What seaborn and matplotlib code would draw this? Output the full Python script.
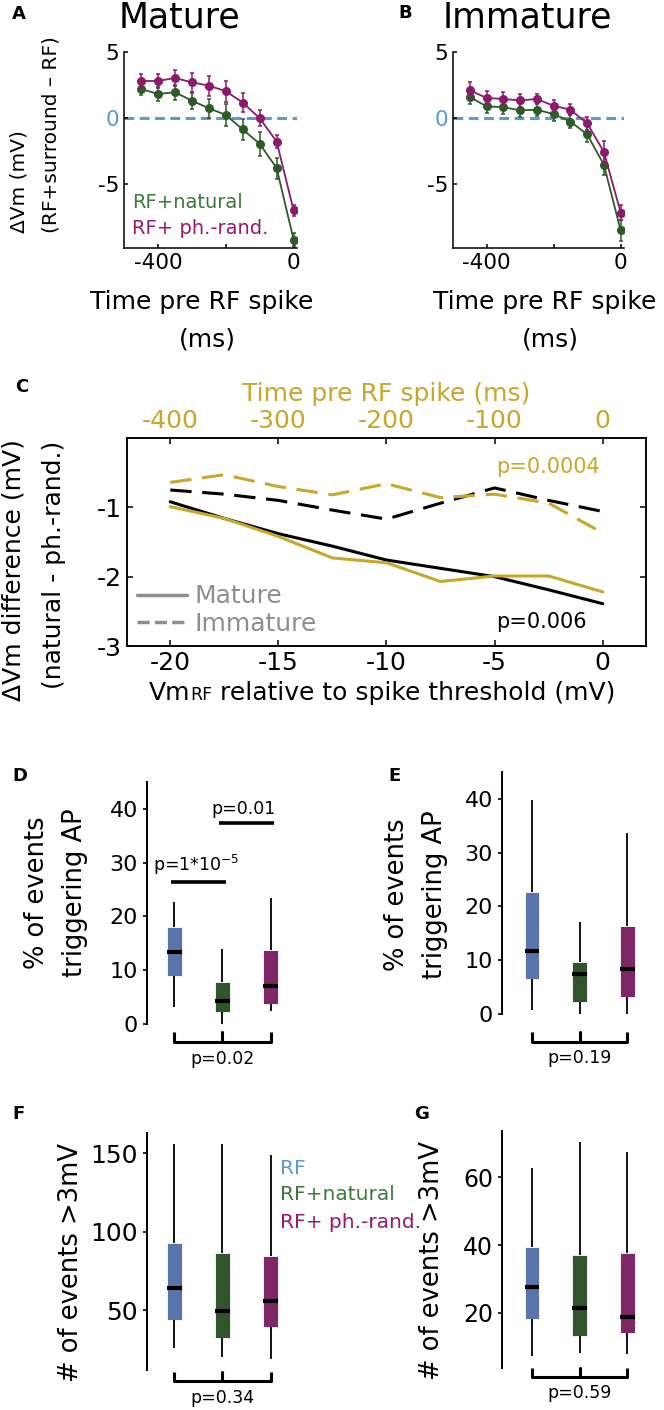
import numpy as np
import pandas as pd
import matplotlib
matplotlib.use("Agg")
import matplotlib.pyplot as plt
from matplotlib.lines import Line2D
from matplotlib.offsetbox import TextArea, HPacker, AnchoredOffsetbox
import seaborn as sns

W, H = 664, 1410

GREEN = "#2d5a27"
MAGENTA = "#8b1a6b"
BLUE_BOX = "#4a70b8"
BLUE_LINE = "#5b9bd5"
GOLD = "#c9a62c"
GRAY = "#8e8e8e"
LEG_GREEN = "#3b7a3a"
LEG_MAGENTA = "#98196f"

# --- A / B : dVm vs time before RF spike -------------------------------
TIME_MS = [-450, -400, -350, -300, -250, -200, -150, -100, -50, 0]
MATURE_NAT = [2.21, 1.83, 1.96, 1.33, 0.75, 0.25, -0.85, -1.93, -3.77, -9.17]
MATURE_NAT_ERR = [0.45, 0.5, 0.55, 0.6, 0.7, 0.8, 0.8, 0.9, 0.8, 0.5]
MATURE_RAND = [2.81, 2.81, 3.04, 2.71, 2.46, 2.04, 1.18, 0.0, -1.76, -6.96]
MATURE_RAND_ERR = [0.5, 0.5, 0.6, 0.7, 0.75, 0.8, 0.7, 0.6, 0.5, 0.4]
IMM_NAT = [1.60, 0.89, 0.84, 0.59, 0.64, 0.31, -0.25, -1.22, -3.51, -8.47]
IMM_NAT_ERR = [0.5, 0.5, 0.5, 0.5, 0.5, 0.5, 0.5, 0.6, 0.8, 0.8]
IMM_RAND = [2.11, 1.53, 1.45, 1.35, 1.45, 0.94, 0.64, -0.38, -2.54, -7.12]
IMM_RAND_ERR = [0.6, 0.5, 0.5, 0.5, 0.4, 0.4, 0.4, 0.5, 0.8, 0.6]

# --- C : natural - phase-randomised difference --------------------------
VM_REL = [-20, -17.5, -15, -12.5, -10, -7.5, -5, -2.5, 0]
TIME_C = [-400, -350, -300, -250, -200, -150, -100, -50, 0]
C_MATURE_VM = [-0.92, -1.16, -1.38, -1.56, -1.76, -1.88, -2.00, -2.19, -2.39]
C_MATURE_TIME = [-0.99, -1.16, -1.42, -1.73, -1.80, -2.07, -1.99, -1.99, -2.22]
C_IMM_VM = [-0.75, -0.81, -0.90, -1.04, -1.17, -0.94, -0.72, -0.90, -1.06]
C_IMM_TIME = [-0.64, -0.53, -0.70, -0.82, -0.66, -0.86, -0.81, -0.94, -1.37]

# --- D-G : box summaries [low whisker, q1, median, q3, high whisker] -----
CONDITIONS = ["RF", "RF+natural", "RF+ ph.-rand."]
BOX_COLORS = [BLUE_BOX, GREEN, MAGENTA]
D_STATS = [[3.2, 8.9, 13.4, 18.0, 22.6], [0.0, 2.2, 4.2, 7.75, 14.0], [2.5, 3.8, 7.1, 13.7, 23.4]]
E_STATS = [[0.8, 6.5, 11.7, 22.6, 39.8], [0.0, 2.3, 7.5, 9.7, 17.1], [0.0, 3.1, 8.4, 16.3, 33.7]]
F_STATS = [[25.9, 44.0, 64.0, 93.2, 156.2], [20.2, 32.6, 49.4, 86.4, 156.2], [19.1, 39.6, 55.7, 84.9, 149.0]]
G_STATS = [[7.3, 18.3, 27.6, 39.4, 62.8], [8.2, 13.1, 21.6, 37.1, 70.4], [8.0, 14.1, 18.8, 37.7, 67.3]]
# pairwise bars in D: (x from, x to, y)
D_SIG = [(-0.06, 1.08, 26.4, "p=1*10$^{-5}$"), (0.92, 2.06, 37.4, "p=0.01")]


def place(fig, l, t, w, h):
    return fig.add_axes([l / W, 1 - (t + h) / H, w / W, h / H])


def ftext(fig, x, y, s, **kw):
    return fig.text(x / W, 1 - y / H, s, **kw)


def trace_panel(ax, nat, nat_err, rnd, rnd_err):
    ax.axhline(0, color=BLUE_LINE, lw=2.2, ls=(0, (3.2, 1.8)), zorder=0)
    for vals, err, col in ((nat, nat_err, GREEN), (rnd, rnd_err, MAGENTA)):
        ax.errorbar(TIME_MS, vals, yerr=err, fmt="none", ecolor=col,
                    elinewidth=1.1, capsize=1.3, capthick=1.1)
        sns.lineplot(x=TIME_MS, y=vals, color=col, marker="o", markersize=6.5,
                     markeredgewidth=0, lw=1.3, ax=ax)
    ax.set_xlim(-500, 10)
    ax.set_ylim(-9.8, 5)
    ax.set_xticks([-400, -200, 0])
    ax.set_xticklabels(["-400", "", "0"])
    ax.set_yticks([-5, 0, 5])
    ax.set_yticklabels(["-5", "0", "5"])
    ax.get_yticklabels()[1].set_color(BLUE_LINE)
    sns.despine(ax=ax)
    ax.tick_params(direction="in", length=3, width=1.1, labelsize=15.5)


def box_panel(ax, stats, ylim, yticks, left):
    df = pd.DataFrame({"cond": np.repeat(CONDITIONS, 5), "val": np.concatenate(stats)})
    sns.boxplot(data=df, x="cond", y="val", hue="cond",
                palette=dict(zip(CONDITIONS, BOX_COLORS)), whis=(0, 100),
                width=0.31, showcaps=False, linecolor="black", linewidth=1.3,
                medianprops=dict(color="black", linewidth=3),
                boxprops=dict(edgecolor="white", linewidth=0.6),
                legend=False, ax=ax)
    ax.set_xlim(left, 2.5)
    ax.set_ylim(*ylim)
    ax.set_yticks(yticks)
    ax.set_xticks([])
    ax.set(xlabel="", ylabel="")
    sns.despine(ax=ax, bottom=True)
    ax.spines["left"].set_linewidth(1.4)
    ax.tick_params(axis="y", direction="out", length=3, width=1.2)


def bracket(ax, y, ytop, label, ylab):
    tr = ax.get_xaxis_transform()
    n = len(CONDITIONS) - 1
    ax.plot([0, 0, n, n], [ytop, y, y, ytop], color="black", lw=2.2,
            transform=tr, clip_on=False, solid_capstyle="butt")
    ax.plot([n / 2, n / 2], [y, ytop], color="black", lw=2.2,
            transform=tr, clip_on=False)
    ax.text(n / 2, ylab, label, transform=tr, ha="center", va="center", fontsize=12.5)


def main():
    sns.set_theme(style="ticks")
    plt.rcParams["font.family"] = ["DejaVu Sans"]
    plt.rcParams["axes.linewidth"] = 1.1
    plt.rcParams["mathtext.default"] = "regular"
    plt.rcParams["axes.unicode_minus"] = False
    for key in ("text.color", "axes.labelcolor", "xtick.color", "ytick.color", "axes.edgecolor"):
        plt.rcParams[key] = "black"

    fig = plt.figure(figsize=(W / 100, H / 100), dpi=100)

    # ---------------- A & B ----------------
    ax_a = place(fig, 124, 52, 173, 196)
    trace_panel(ax_a, MATURE_NAT, MATURE_NAT_ERR, MATURE_RAND, MATURE_RAND_ERR)
    ax_b = place(fig, 453, 52, 171, 196)
    trace_panel(ax_b, IMM_NAT, IMM_NAT_ERR, IMM_RAND, IMM_RAND_ERR)

    ftext(fig, 180, 18, "Mature", fontsize=25, ha="center", va="center")
    ftext(fig, 527, 18, "Immature", fontsize=25, ha="center", va="center")
    for cx in (202, 545):
        ftext(fig, cx, 302, "Time pre RF spike", fontsize=18, ha="center", va="center")
        ftext(fig, cx + 5, 339, "(ms)", fontsize=18, ha="center", va="center")
    ftext(fig, 19, 233, "ΔVm (mV)", fontsize=14.5, rotation=90, ha="center", va="bottom")
    ftext(fig, 51, 233, "(RF+surround – RF)", fontsize=14.5, rotation=90, ha="center", va="bottom")
    ftext(fig, 132, 202, "RF+natural", fontsize=14, color=LEG_GREEN, va="center")
    ftext(fig, 132, 228, "RF+ ph.-rand.", fontsize=14, color=LEG_MAGENTA, va="center")

    # ---------------- C ----------------
    ax_c = place(fig, 127, 438, 519, 208)
    sns.lineplot(x=VM_REL, y=C_MATURE_VM, color="black", lw=2.2, ax=ax_c)
    sns.lineplot(x=VM_REL, y=C_IMM_VM, color="black", lw=2.2, ls=(0, (7, 3.5)), ax=ax_c)
    ax_t = ax_c.twiny()
    sns.lineplot(x=TIME_C, y=C_MATURE_TIME, color=GOLD, lw=2.2, ax=ax_t)
    sns.lineplot(x=TIME_C, y=C_IMM_TIME, color=GOLD, lw=2.2, ls=(0, (7, 3.5)), ax=ax_t)
    ax_c.set_xlim(-22, 2)
    ax_t.set_xlim(-440, 40)
    ax_c.set_ylim(-3, 0)
    ax_c.set_xticks([-20, -15, -10, -5, 0])
    ax_c.set_yticks([-3, -2, -1])
    ax_t.set_xticks([-400, -300, -200, -100, 0])
    ax_c.tick_params(direction="in", length=4, width=1.1, labelsize=18, right=True)
    ax_t.tick_params(direction="in", length=4, width=1.1, labelsize=18, labelcolor=GOLD)
    ax_t.set_xlabel("Time pre RF spike (ms)", color=GOLD, fontsize=18, labelpad=6)
    ax_c.set(xlabel="", ylabel="")

    label = HPacker(children=[TextArea("Vm", textprops=dict(size=18)),
                              TextArea("RF", textprops=dict(size=12.5)),
                              TextArea(" relative to spike threshold (mV)", textprops=dict(size=18))],
                    align="baseline", pad=0, sep=0)
    box = AnchoredOffsetbox(loc="center", child=label, frameon=False, pad=0,
                            bbox_to_anchor=(382 / W, 1 - 693 / H),
                            bbox_transform=fig.transFigure, borderpad=0)
    ax_c.add_artist(box)

    ftext(fig, 14, 570, "ΔVm difference (mV)", fontsize=18, rotation=90, ha="center", va="center")
    ftext(fig, 54, 565, "(natural - ph.-rand.)", fontsize=18, rotation=90, ha="center", va="center")
    ftext(fig, 496, 467, "p=0.0004", fontsize=15, color=GOLD, va="center")
    ftext(fig, 496, 622, "p=0.006", fontsize=15, color="black", va="center")
    handles = [Line2D([], [], color=GRAY, lw=2.5),
               Line2D([], [], color=GRAY, lw=2.5, ls=(0, (3.5, 1.5)))]
    leg = ax_c.legend(handles, ["Mature", "Immature"], loc="lower left", frameon=False,
                      fontsize=18, handlelength=2.0, handletextpad=0.3, labelspacing=0.15,
                      borderaxespad=0.1, borderpad=0.3)
    for t in leg.get_texts():
        t.set_color(GRAY)

    # ---------------- D - G ----------------
    ax_d = place(fig, 147, 782, 148, 242)
    box_panel(ax_d, D_STATS, (0, 45), [0, 10, 20, 30, 40], -0.56)
    ax_d.tick_params(axis="y", labelsize=16)
    for x0, x1, y, lab in D_SIG:
        ax_d.plot([x0, x1], [y, y], color="black", lw=2.6, solid_capstyle="butt")
        ax_d.text((x0 + x1) / 2 - 0.05, y + 0.9, lab, ha="center", va="bottom", fontsize=12.5)
    bracket(ax_d, -0.074, -0.033, "p=0.02", -0.145)

    ax_e = place(fig, 502, 772, 149, 242)
    box_panel(ax_e, E_STATS, (0, 45), [0, 10, 20, 30, 40], -0.63)
    ax_e.tick_params(axis="y", labelsize=16)
    bracket(ax_e, -0.116, -0.074, "p=0.19", -0.18)

    ax_f = place(fig, 147, 1133, 148, 237)
    box_panel(ax_f, F_STATS, (12, 163), [50, 100, 150], -0.56)
    ax_f.tick_params(axis="y", labelsize=18)
    bracket(ax_f, -0.046, -0.008, "p=0.34", -0.118)

    ax_g = place(fig, 502, 1131, 149, 237)
    box_panel(ax_g, G_STATS, (3.8, 73.6), [20, 40, 60], -0.63)
    ax_g.tick_params(axis="y", labelsize=17)
    bracket(ax_g, -0.038, 0.0, "p=0.59", -0.105)

    for x1, x2, yc in ((37, 75, 893), (397, 435, 895)):
        ftext(fig, x1, yc, "% of events", fontsize=18.5, rotation=90, ha="center", va="center")
        ftext(fig, x2, yc, "triggering AP", fontsize=18.5, rotation=90, ha="center", va="center")
    ftext(fig, 71, 1262, "# of events >3mV", fontsize=18.5, rotation=90, ha="center", va="center")
    ftext(fig, 432, 1261, "# of events >3mV", fontsize=18.5, rotation=90, ha="center", va="center")

    for name, y, col in zip(CONDITIONS, (1168, 1195, 1223), (BLUE_LINE, LEG_GREEN, LEG_MAGENTA)):
        ftext(fig, 280, y, name, fontsize=14.5, color=col, va="center")

    for letter, x, y in (("A", 19, 14), ("B", 405, 13), ("C", 22, 387), ("D", 20, 776),
                         ("E", 395, 776), ("F", 18, 1114), ("G", 422, 1114)):
        ftext(fig, x, y, letter, fontsize=13, fontweight="bold", ha="center", va="center")

    fig.savefig("out.png", dpi=100)
    plt.close(fig)


if __name__ == "__main__":
    main()
